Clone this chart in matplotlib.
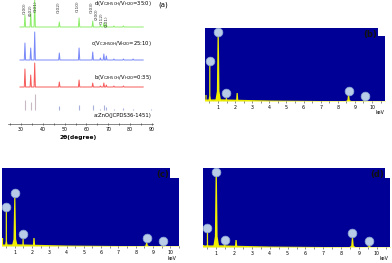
import matplotlib
matplotlib.use("Agg")
import matplotlib.pyplot as plt
from matplotlib.patches import Rectangle

W, H = 392, 263

# XRD (a): ZnO reflections and peak heights per pattern (arbitrary units)
xrd_pos = [31.77, 34.42, 36.25, 47.54, 56.60, 62.86, 66.38, 67.96, 69.10, 72.56, 76.95, 81.37, 89.61]
hkl = ["(100)", "(002)", "(101)", "(102)", "(110)", "(103)", "(200)", "(112)", "(201)"]
green_h = [12, 14, 27, 5, 9, 6, 2, 4, 3, 1, 1, 0, 0]
blue_h = [17, 12, 28, 7, 12, 8, 2, 6, 4, 1, 1, 1, 0]
red_h = [18, 12, 24, 5, 7, 4, 1, 4, 2, 1, 1, 0, 0]
stick_h = [10, 8, 16, 4, 5, 5, 1, 5, 3, 1, 2, 1.5, 1.5]
xrd_labels = [r"d(V$_{\rm C2H5OH}$/V$_{\rm H2O}$=35:0)",
              r"c(V$_{\rm C2H5OH}$/V$_{\rm H2O}$=25:10)",
              r"b(V$_{\rm C2H5OH}$/V$_{\rm H2O}$=0:35)",
              "a:ZnO(JCPDS36-1451)"]

# EDS (b)-(d): line energies (keV) and peak heights
eds_e = [0.30, 0.52, 1.01, 1.49, 2.12, 8.63, 9.57]
eds_w = [0.07, 0.08, 0.17, 0.10, 0.14, 0.16, 0.13]
eds_b = [6, 38, 69, 3, 8, 6, 2]
eds_c = [8, 36, 48, 7, 8, 3, 1]
eds_d = [2, 15, 75, 3, 7, 9, 3]
circ_b = [None, 40, 69, 8, None, 10, 5]
circ_c = [None, 39, 53, 12, None, 8, 5]
circ_d = [None, 19, 75, 7, None, 14, 6]
bg_e = [0.2, 1.2, 2.5, 4.0, 7.0, 11.0]
bg_h = [2.0, 2.2, 1.6, 1.0, 0.5, 0.3]

# label placement for the hkl tags in panel (a): (x in degrees, y bottom)
hkl_xy = [(31.5, 110), (34.3, 108), (36.5, 112), (47.3, 111), (55.8, 112),
          (62.2, 111), (64.6, 104), (66.9, 100), (69.2, 97)]


def px_axes(fig, l, t, r, b):
    return fig.add_axes([l / W, 1 - b / H, (r - l) / W, (b - t) / H])


def trace(pos, heights, base, x0, x1, w=0.3):
    xs, ys = [x0], [base]
    for p, h in zip(pos, heights):
        if p + w > x1:
            break
        xs += [p - w, p, p + w]
        ys += [base, base + h, base]
    xs.append(x1)
    ys.append(base)
    return xs, ys


fig = plt.figure(figsize=(W / 100, H / 100), dpi=100)

# ---- panel (a)
ax = px_axes(fig, 8, 0, 153, 124)
ax.set_xlim(24, 90.5)
ax.set_ylim(0, 124)
for heights, base, color in [(green_h, 97, "#8ded6a"), (blue_h, 64, "#7888f8"), (red_h, 37, "#f65a5a")]:
    xs, ys = trace(xrd_pos, heights, base, 29.5, 86)
    ax.plot(xs, ys, color=color, linewidth=0.7)
for i, (p, h) in enumerate(zip(xrd_pos, stick_h)):
    ax.vlines(p, 14, 14 + h, color="#c8b8c4" if i < 3 else "#a8b0dc", linewidth=0.8)
for lab, (x, y) in zip(hkl, hkl_xy):
    ax.text(x, y, lab, rotation=90, fontsize=3.2, ha="center", va="bottom", color="#333333")
for lab, y in zip(xrd_labels, [120, 81, 47, 8]):
    ax.text(90, y, lab, fontsize=3.8, ha="right", va="center")
ax.text(93, 119, "(a)", fontsize=5, ha="left", va="center", clip_on=False)
for s in ["top", "left", "right"]:
    ax.spines[s].set_visible(False)
ax.spines["bottom"].set_color("#555555")
ax.spines["bottom"].set_linewidth(0.5)
ax.set_yticks([])
ax.set_xticks(range(30, 91, 10))
ax.set_xticks(range(25, 91, 10), minor=True)
ax.tick_params(axis="x", which="both", labelsize=3.4, length=1.5, width=0.4, pad=1.5, direction="inout")
fig.text(78 / W, 1 - 137 / H, "2θ(degree)", fontsize=4.2, fontweight="bold", ha="center", va="center")

# ---- panels (b)-(d)
panels = [
    ("(b)", (205, 28, 385, 101), (0.24, 10.76), eds_b, circ_b, (378, 36), (370, 34), (380, 112)),
    ("(c)", (2, 168, 179, 246), (0.27, 10.22), eds_c, circ_c, (170, 178), (163, 175), (172, 259)),
    ("(d)", (203, 168, 390, 247), (0.27, 10.73), eds_d, circ_d, (385, 178), (377, 175), (384, 259)),
]
for tag, (l, t, r, b), xlim, heights, circ, notch, tagpos, kevpos in panels:
    ax = px_axes(fig, l, t, r, b)
    ax.set_facecolor("#000096")
    ax.set_xlim(*xlim)
    ax.set_ylim(0, b - t)
    ax.fill_between(bg_e, 0, bg_h, color="#e8e800", linewidth=0)
    for e, w, h in zip(eds_e, eds_w, heights):
        ax.fill([e - w, e - w * 0.45, e - 0.035, e + 0.035, e + w * 0.45, e + w],
                [0, h * 0.14, h, h, h * 0.14, 0], color="#f0f000", linewidth=0)
    for e, c in zip(eds_e, circ):
        if c is not None:
            ax.plot(e, c, "o", ms=6.3, mfc="#b8cce8", mec="#8aa6d6", mew=0.5, zorder=5)
    # white notch at the top right corner
    ax.add_patch(Rectangle(((notch[0] - l) / (r - l), 1 - (notch[1] - t) / (b - t)),
                           1, 1, transform=ax.transAxes, facecolor="white", edgecolor="none", zorder=6))
    ax.text((tagpos[0] - l) / (r - l), 1 - (tagpos[1] - t) / (b - t), tag, transform=ax.transAxes,
            fontsize=6, fontweight="bold", ha="center", va="center", color="#111111", zorder=7)
    for s in ax.spines.values():
        s.set_visible(False)
    ax.set_yticks([])
    ax.set_xticks(range(1, 11))
    ax.set_xticks([x / 2 for x in range(1, 22)], minor=True)
    ax.tick_params(axis="x", which="both", labelsize=3.4, length=1.2, width=0.4, pad=2, color="#333333")
    fig.text(kevpos[0] / W, 1 - kevpos[1] / H, "keV", fontsize=3.4, ha="center", va="center")

fig.savefig("out.png", dpi=100)
